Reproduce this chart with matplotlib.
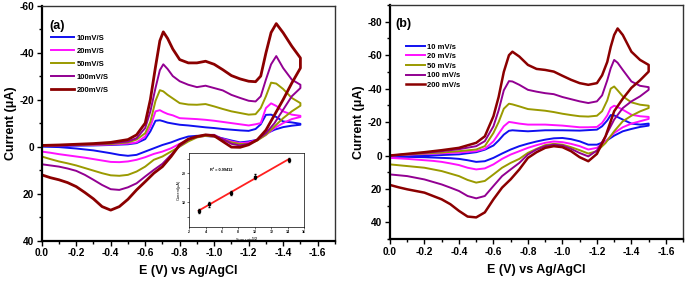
import numpy as np
import matplotlib
matplotlib.use("Agg")
import matplotlib.pyplot as plt
from matplotlib.ticker import MultipleLocator, FixedLocator

plt.rcParams["font.family"] = ["Liberation Sans", "DejaVu Sans"]
plt.rcParams["font.weight"] = "bold"
plt.rcParams["axes.unicode_minus"] = False

# ---- panel (a) data ----
fwd_a = [0, -0.1, -0.2, -0.3, -0.4, -0.5, -0.55, -0.6, -0.63, -0.66, -0.685, -0.705, -0.73, -0.76,
         -0.8, -0.85, -0.9, -0.95, -1.0, -1.05, -1.1, -1.15, -1.2, -1.24, -1.27, -1.3, -1.33, -1.36,
         -1.4, -1.45, -1.5]
ret = [-1.5, -1.45, -1.4, -1.35, -1.3, -1.25, -1.2, -1.15, -1.1, -1.05, -1.0, -0.95, -0.9, -0.85,
       -0.8, -0.75, -0.7, -0.65, -0.6, -0.55, -0.5, -0.45, -0.4, -0.35, -0.3, -0.25, -0.2, -0.15,
       -0.1, -0.05, 0]

a10_f = [-0.3, -0.3, -0.4, -0.5, -0.7, -1.0, -1.5, -3.2, -6.5, -11.0, -11.2, -10.8, -10.2, -9.8,
         -9.3, -9.0, -8.6, -8.2, -7.9, -7.5, -7.2, -6.9, -6.7, -7.5, -9.5, -13.5, -13.6, -12.6,
         -10.7, -10.3, -9.7]
a10_r = [-9.3, -8.9, -8.3, -7.2, -5.5, -2.9, -2.2, -1.8, -2.6, -3.5, -4.3, -4.5, -4.6, -4.3,
         -3.2, -1.8, -0.7, 0.7, 2.1, 3.5, 3.9, 3.5, 2.8, 2.2, 1.6, 1.2, 0.8, 0.5, 0.2, 0.1, 0.0]
a20_f = [-0.5, -0.5, -0.6, -0.7, -0.9, -1.3, -1.8, -4.3, -8.5, -15.0, -15.5, -14.7, -13.9, -13.3,
         -12.1, -11.9, -11.7, -11.4, -11.0, -10.5, -10.0, -9.5, -9.0, -9.5, -10.0, -16.4, -18.4,
         -17.3, -15.0, -13.6, -13.1]
a20_r = [-12.6, -11.7, -10.0, -7.9, -5.0, -2.9, -1.8, -1.5, -2.2, -3.3, -4.3, -4.6, -4.0, -2.9,
         -1.2, 0.7, 2.1, 3.1, 4.5, 5.6, 6.3, 6.6, 6.5, 5.9, 5.3, 4.7, 4.2, 3.7, 3.2, 2.6, 2.1]
a50_f = [-0.5, -0.6, -0.7, -0.9, -1.1, -1.8, -3.0, -5.7, -10.5, -19.5, -24.0, -23.5, -22.0, -20.5,
         -18.5, -17.9, -17.8, -18.1, -17.1, -16.0, -15.0, -14.3, -13.6, -13.8, -16.4, -21.4, -27.2,
         -26.8, -24.5, -20.7, -18.5]
a50_r = [-17.4, -15.0, -12.1, -8.6, -5.0, -2.6, -1.2, -1.1, -1.8, -3.0, -4.3, -4.6, -3.9, -2.2,
         0.0, 2.1, 4.2, 5.6, 8.5, 10.6, 12.0, 12.4, 12.2, 11.3, 10.2, 9.1, 8.0, 7.1, 6.3, 5.3, 4.2]
a100_f = [-0.5, -0.6, -0.8, -1.0, -1.4, -2.2, -3.6, -7.9, -15.0, -25.0, -32.5, -35.0, -33.0, -30.0,
          -27.8, -26.3, -25.3, -25.9, -24.9, -23.9, -22.0, -20.7, -19.5, -19.2, -21.4, -28.5, -35.0,
          -38.5, -33.4, -28.5, -26.3]
a100_r = [-24.9, -21.4, -15.7, -10.0, -5.7, -2.9, -1.2, -0.5, -1.2, -3.2, -5.0, -5.0, -4.3, -2.9,
          -0.3, 3.5, 7.3, 9.9, 12.7, 15.6, 17.3, 18.4, 18.1, 16.3, 14.1, 12.0, 10.3, 9.3, 8.5, 8.0, 7.5]
a200_f = [-0.5, -0.7, -1.0, -1.3, -1.8, -3.0, -5.0, -10.0, -20.0, -34.0, -45.0, -48.8, -46.0, -41.5,
          -37.0, -35.6, -35.6, -36.3, -35.0, -32.7, -30.2, -28.8, -27.8, -27.6, -30.0, -39.8, -48.5,
          -52.3, -48.4, -42.7, -37.7]
a200_r = [-33.4, -27.0, -20.0, -13.5, -7.0, -2.9, -0.8, 0.3, 0.2, -2.2, -4.6, -5.0, -4.3, -3.2,
          -0.8, 4.2, 8.5, 11.3, 14.9, 18.4, 22.4, 25.5, 27.0, 25.5, 22.2, 19.5, 17.0, 15.3, 14.1, 13.2, 12.0]

# ---- panel (b) data ----
fwd_b = [0, -0.1, -0.2, -0.3, -0.4, -0.5, -0.55, -0.6, -0.63, -0.66, -0.69, -0.71, -0.75, -0.8,
         -0.85, -0.9, -0.95, -1.0, -1.05, -1.1, -1.15, -1.2, -1.23, -1.26, -1.28, -1.3, -1.32,
         -1.35, -1.4, -1.45, -1.5]

b10_f = [0.4, 0.2, 0.0, -0.3, -0.7, -2.0, -3.5, -6.0, -9.0, -12.5, -14.8, -15.1, -14.8, -14.5,
         -14.8, -15.1, -15.1, -15.1, -15.0, -14.9, -15.2, -15.5, -17.5, -21.0, -24.2, -24.0, -23.0,
         -21.5, -19.1, -18.5, -19.1]
b10_r = [-17.9, -17.1, -15.9, -14.5, -11.9, -8.5, -6.5, -6.5, -8.5, -9.8, -10.5, -10.3, -9.5, -8.4,
         -7.1, -5.6, -3.6, -1.2, 1.4, 3.4, 3.8, 2.8, 2.0, 1.6, 1.4, 1.2, 1.0, 0.9, 0.8, 0.8, 0.8]
b20_f = [0, -0.5, -0.9, -1.3, -1.8, -2.6, -4.0, -8.5, -13.0, -17.5, -20.1, -19.8, -19.1, -18.5,
         -18.5, -18.5, -18.2, -17.9, -17.4, -16.9, -16.9, -17.1, -19.5, -24.0, -28.5, -29.8, -29.0,
         -27.4, -24.4, -23.5, -23.1]
b20_r = [-21.9, -20.5, -19.1, -16.9, -13.5, -8.5, -4.6, -3.6, -5.6, -7.0, -8.0, -8.4, -7.6, -6.2,
         -4.6, -2.6, -0.6, 2.0, 5.3, 7.7, 8.3, 7.3, 5.7, 4.7, 3.8, 3.2, 2.8, 2.4, 2.0, 1.7, 1.4]
b50_f = [0, -0.6, -1.2, -1.8, -2.6, -3.6, -5.6, -13.5, -20.0, -28.0, -31.0, -30.6, -29.4, -27.8,
         -27.3, -26.8, -26.0, -25.0, -24.2, -23.5, -23.3, -23.8, -26.5, -33.0, -40.0, -41.3, -39.0,
         -35.4, -31.8, -30.4, -29.8]
b50_r = [-28.4, -26.4, -23.8, -20.5, -14.5, -7.5, -2.6, -1.2, -3.2, -5.0, -6.5, -7.0, -6.2, -4.0,
         -1.6, 2.0, 4.4, 7.3, 11.3, 15.2, 16.2, 14.6, 12.3, 10.8, 9.3, 8.3, 7.3, 6.8, 6.3, 5.8, 5.3]
b100_f = [0, -0.8, -1.6, -2.6, -3.8, -5.6, -8.6, -17.5, -27.0, -39.0, -44.5, -44.3, -42.3, -39.3,
          -38.2, -37.3, -36.7, -35.0, -33.7, -32.4, -31.4, -32.4, -36.0, -45.0, -52.2, -57.2, -55.5,
          -51.2, -44.3, -41.7, -40.9]
b100_r = [-39.3, -35.4, -32.4, -28.4, -21.5, -11.5, -3.0, 0.5, -1.5, -4.0, -6.0, -6.5, -5.6, -3.6,
          -0.6, 4.4, 8.3, 12.3, 18.2, 24.2, 25.6, 24.2, 21.2, 19.2, 17.3, 15.8, 14.3, 13.3, 12.3, 11.8, 11.3]
b200_f = [0, -1.0, -2.0, -3.2, -4.6, -7.6, -11.5, -23.5, -35.0, -50.0, -60.0, -62.1, -59.2, -54.2,
          -51.8, -51.2, -50.2, -47.7, -45.3, -43.3, -42.3, -43.3, -48.0, -56.0, -65.0, -72.1, -76.0,
          -72.1, -62.1, -57.2, -54.2]
b200_r = [-50.2, -45.0, -40.5, -34.0, -26.5, -11.5, -1.0, 3.4, 1.0, -2.6, -5.0, -5.6, -4.6, -2.0,
          1.4, 8.3, 14.2, 19.2, 26.2, 34.0, 37.0, 36.5, 33.1, 29.1, 26.2, 24.2, 22.2, 21.2, 20.2, 19.0, 17.6]

colors = ["#1010f0", "#ff10ff", "#9a9a00", "#920092", "#8b0000"]
labels_a = ["10mV/S", "20mV/S", "50mV/S", "100mV/S", "200mV/S"]
labels_b = ["10 mV/s", "20 mV/s", "50 mV/s", "100 mV/s", "200 mV/s"]

# inset: peak current vs sqrt(scan rate)
scan_rate = [10, 20, 50, 100, 200]
ip = [7.0, 9.3, 13.3, 18.9, 24.6]
ip_err = [0.8, 0.8, 0.8, 0.8, 0.8]

curves_a = [(a10_f, a10_r), (a20_f, a20_r), (a50_f, a50_r), (a100_f, a100_r), (a200_f, a200_r)]
curves_b = [(b10_f, b10_r), (b20_f, b20_r), (b50_f, b50_r), (b100_f, b100_r), (b200_f, b200_r)]

fig = plt.figure(figsize=(6.85, 2.81), dpi=100)
ax1 = fig.add_axes([0.0609, 0.1434, 0.428, 0.837])
ax2 = fig.add_axes([0.5693, 0.149, 0.428, 0.833])


def style(ax, ylim, ystep):
    ax.set_xlim(0, -1.7)
    ax.set_ylim(ylim)
    ax.xaxis.set_major_locator(FixedLocator([0, -0.2, -0.4, -0.6, -0.8, -1.0, -1.2, -1.4, -1.6]))
    ax.xaxis.set_minor_locator(MultipleLocator(0.1))
    ax.yaxis.set_major_locator(MultipleLocator(ystep))
    ax.yaxis.set_minor_locator(MultipleLocator(ystep / 2))
    ax.xaxis.set_major_formatter(plt.FuncFormatter(lambda v, p: "%.1f" % v if abs(v) > 1e-9 else "0.0"))
    ax.tick_params(which="both", direction="out", labelsize=7.3, width=1.0, pad=2)
    ax.tick_params(which="major", length=3.5)
    ax.tick_params(which="minor", length=2)
    for s in ["left", "bottom"]:
        ax.spines[s].set_linewidth(1.6)
    for s in ["top", "right"]:
        ax.spines[s].set_linewidth(1.0)
        ax.spines[s].set_color("#333333")
    ax.set_xlabel("E (V) vs Ag/AgCl", fontsize=9, fontweight="bold", labelpad=5)
    ax.set_ylabel("Current (\u03bcA)", fontsize=9, fontweight="bold", labelpad=2)


for (f, r), c, lab in zip(curves_a, colors, labels_a):
    lw = 2.0 if lab.startswith("200") else 1.4
    ax1.plot(fwd_a + ret, f + r, color=c, lw=lw, label=lab, solid_joinstyle="round")
for (f, r), c, lab in zip(curves_b, colors, labels_b):
    lw = 1.8 if lab.startswith("200") else 1.4
    ax2.plot(fwd_b + ret, f + r, color=c, lw=lw, label=lab, solid_joinstyle="round")

style(ax1, (40, -60), 20)
style(ax2, (50, -90), 20)
ax2.yaxis.set_major_locator(FixedLocator([40, 20, 0, -20, -40, -60, -80]))

ax1.text(0.025, 0.94, "(a)", transform=ax1.transAxes, fontsize=9, fontweight="bold", va="top")
ax2.text(0.02, 0.945, "(b)", transform=ax2.transAxes, fontsize=9, fontweight="bold", va="top")

ax1.legend(loc="upper left", bbox_to_anchor=(0.015, 0.9), frameon=False, fontsize=5.5,
           handlelength=3.0, handletextpad=0.3, labelspacing=0.75, borderpad=0.2)
ax2.legend(loc="upper left", bbox_to_anchor=(0.035, 0.86), frameon=False, fontsize=5.5,
           handlelength=2.5, handletextpad=0.3, labelspacing=0.3, borderpad=0.2)

# inset
axi = fig.add_axes([0.276, 0.192, 0.168, 0.263])
xs = np.sqrt(scan_rate)
coef = np.polyfit(xs, ip, 1)
axi.plot(xs, np.polyval(coef, xs), color="#ff2020", lw=1.3)
axi.errorbar(xs, ip, yerr=ip_err, fmt="s", ms=1.5, color="black", ecolor="black",
             elinewidth=0.5, capsize=0.8)
axi.set_xlim(2, 16)
axi.set_ylim(1.5, 27)
axi.xaxis.set_major_locator(MultipleLocator(2))
axi.yaxis.set_major_locator(FixedLocator([10, 20]))
axi.yaxis.set_minor_locator(FixedLocator([5, 15, 25]))
axi.tick_params(which="both", direction="out", labelsize=2.5, length=1.2, width=0.4, pad=1)
for s in axi.spines.values():
    s.set_linewidth(0.5)
axi.set_xlabel("Scan rate$^{1/2}$", fontsize=2.8, labelpad=1)
axi.set_ylabel("Current(\u03bcA)", fontsize=2.8, labelpad=1)
axi.text(4.5, 21, "R\u00b2 = 0.99412", fontsize=2.8)

fig.savefig("out.png", dpi=100)
